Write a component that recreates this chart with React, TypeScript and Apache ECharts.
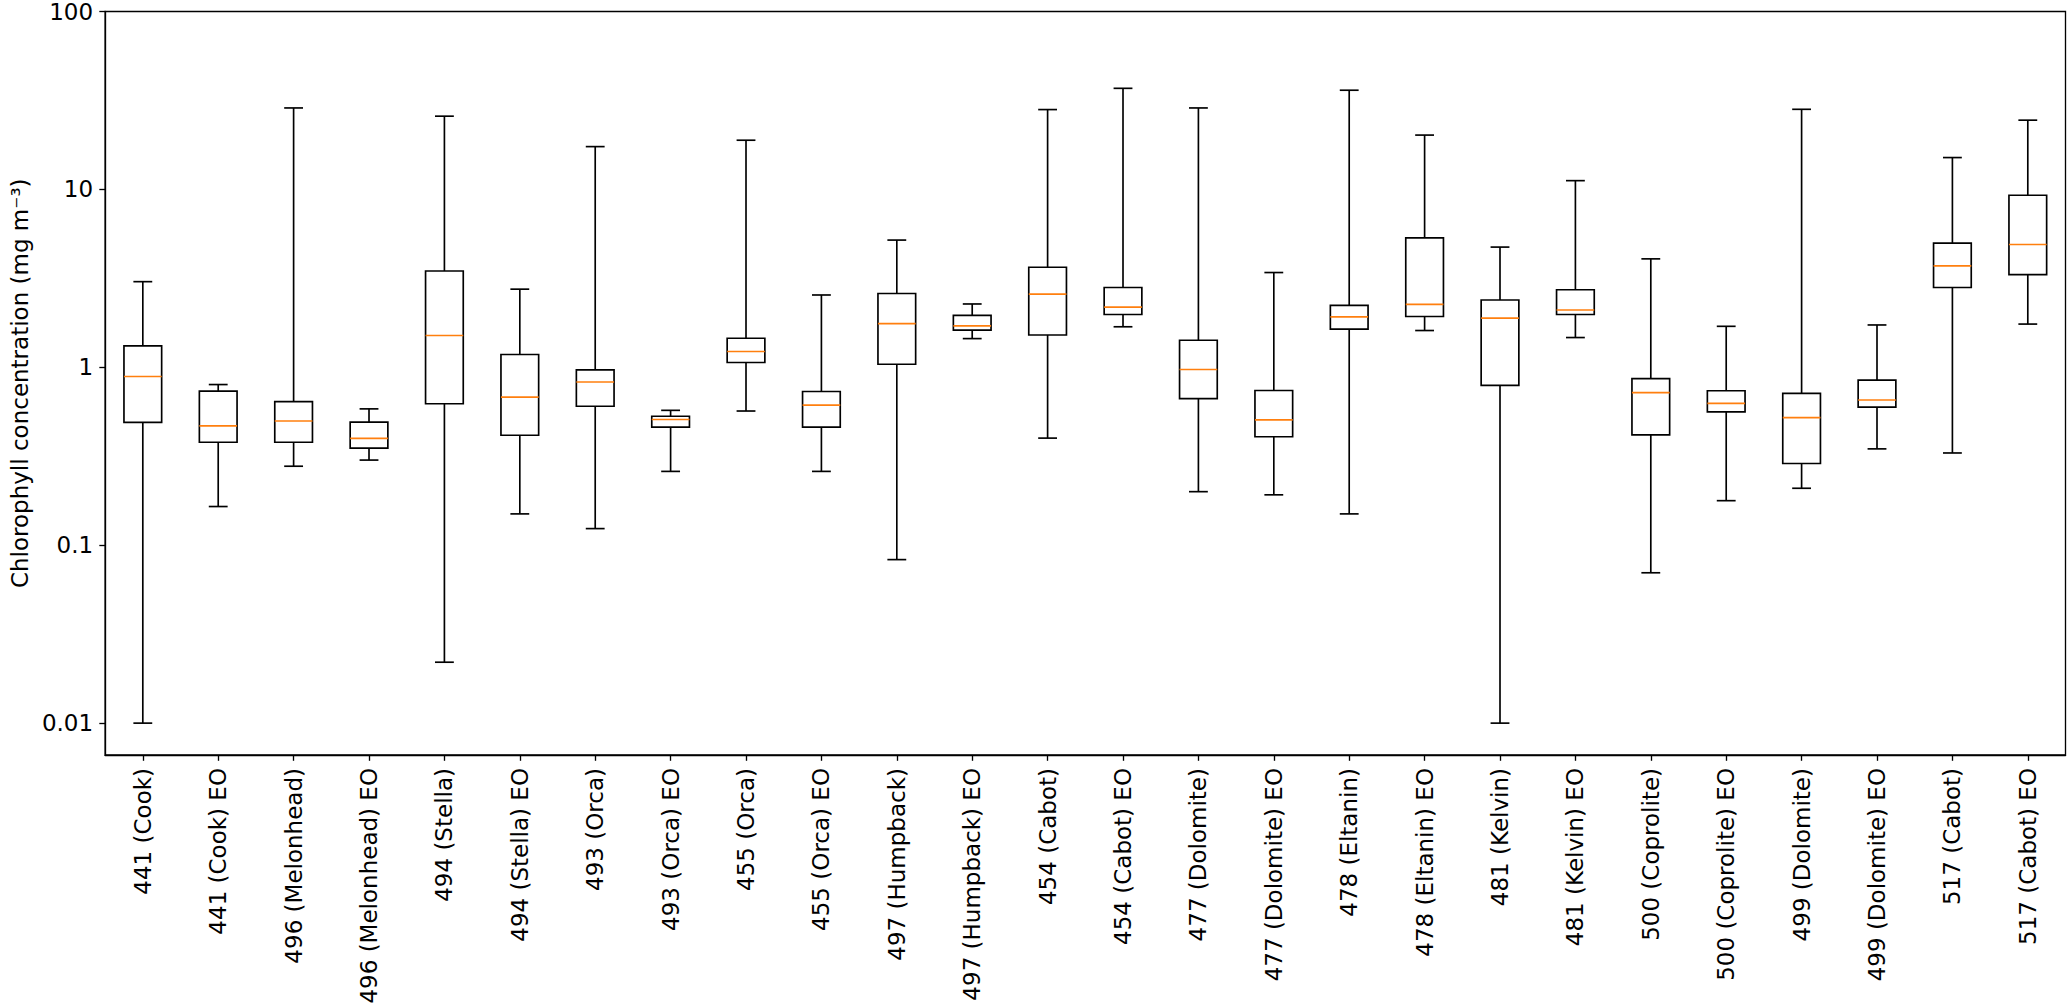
import React, { useEffect, useRef } from "react";
import * as echarts from "echarts";

const categories = [
  "441 (Cook)", "441 (Cook) EO", "496 (Melonhead)", "496 (Melonhead) EO",
  "494 (Stella)", "494 (Stella) EO", "493 (Orca)", "493 (Orca) EO",
  "455 (Orca)", "455 (Orca) EO", "497 (Humpback)", "497 (Humpback) EO",
  "454 (Cabot)", "454 (Cabot) EO", "477 (Dolomite)", "477 (Dolomite) EO",
  "478 (Eltanin)", "478 (Eltanin) EO", "481 (Kelvin)", "481 (Kelvin) EO",
  "500 (Coprolite)", "500 (Coprolite) EO", "499 (Dolomite)", "499 (Dolomite) EO",
  "517 (Cabot)", "517 (Cabot) EO",
];

const whiskerLow = [0.01, 0.165, 0.278, 0.301, 0.022, 0.15, 0.124, 0.26, 0.568, 0.26, 0.083, 1.45, 0.4, 1.69, 0.2, 0.192, 0.15, 1.61, 0.01, 1.47, 0.07, 0.178, 0.209, 0.348, 0.33, 1.75];
const q1 = [0.49, 0.379, 0.379, 0.351, 0.624, 0.415, 0.604, 0.461, 1.064, 0.461, 1.04, 1.62, 1.52, 1.98, 0.667, 0.407, 1.64, 1.93, 0.792, 1.98, 0.417, 0.562, 0.288, 0.598, 2.81, 3.32];
const medians = [0.888, 0.469, 0.499, 0.399, 1.51, 0.68, 0.827, 0.509, 1.227, 0.613, 1.76, 1.71, 2.58, 2.18, 0.972, 0.507, 1.92, 2.26, 1.89, 2.1, 0.72, 0.627, 0.521, 0.655, 3.72, 4.9];
const q3 = [1.32, 0.734, 0.642, 0.492, 3.48, 1.18, 0.967, 0.531, 1.456, 0.731, 2.6, 1.96, 3.65, 2.81, 1.42, 0.741, 2.23, 5.34, 2.39, 2.73, 0.863, 0.738, 0.713, 0.847, 4.99, 9.27];
const whiskerHigh = [3.03, 0.8, 28.7, 0.584, 25.8, 2.75, 17.4, 0.573, 18.9, 2.55, 5.19, 2.27, 28.1, 37.0, 28.7, 3.41, 36.1, 20.2, 4.74, 11.2, 4.07, 1.7, 28.2, 1.73, 15.1, 24.5];

const yTicks = [0.01, 0.1, 1, 10, 100];

const FONT = "DejaVu Sans";

export default function App() {
  const ref = useRef<HTMLDivElement>(null);
  useEffect(() => {
    document.body.style.margin = "0";
    const chart = echarts.init(ref.current!, null, { renderer: "svg" });
    const data = categories.map((_, i) => [i, whiskerLow[i], q1[i], medians[i], q3[i], whiskerHigh[i]]);
    const LW = 1.67;
    chart.setOption({
      animation: false,
      backgroundColor: "#fff",
      grid: {
        left: 97,
        right: 1.5,
        top: 8.5,
        bottom: 252,
        show: true,
        borderColor: "#000",
        borderWidth: 1.33,
        backgroundColor: "transparent",
      },
      xAxis: {
        type: "category",
        data: categories,
        boundaryGap: true,
        axisLine: { show: true, lineStyle: { color: "#000", width: 1.33 } },
        axisTick: { show: true, alignWithLabel: true, length: 5.8, lineStyle: { color: "#000", width: 1.33 } },
        axisLabel: { rotate: 90, interval: 0, margin: 13, color: "#000", fontFamily: FONT, fontSize: 23 },
        splitLine: { show: false },
      },
      yAxis: {
        type: "log",
        logBase: 10,
        min: 0.00662,
        max: 100,
        name: "Chlorophyll concentration (mg m⁻³)",
        nameLocation: "middle",
        nameGap: 72,
        nameTextStyle: { color: "#000", fontFamily: FONT, fontSize: 23 },
        axisLine: { show: true, lineStyle: { color: "#000", width: 1.33 } },
        axisTick: { show: true, length: 5.8, customValues: yTicks, lineStyle: { color: "#000", width: 1.33 } },
        axisLabel: {
          customValues: yTicks,
          margin: 12,
          color: "#000",
          fontFamily: FONT,
          fontSize: 23,
          formatter: (v: number) => String(parseFloat(Number(v).toPrecision(3))),
        },
        splitLine: { show: false },
        minorTick: { show: false },
      },
      series: [
        {
          type: "custom",
          data,
          encode: { x: 0, y: [1, 2, 3, 4, 5] },
          renderItem: (params: any, api: any) => {
            const i = api.value(0);
            const band = params.coordSys.width / categories.length;
            const bw = band * 0.5;
            const cw = band * 0.25;
            const pLow = api.coord([i, api.value(1)]);
            const pQ1 = api.coord([i, api.value(2)]);
            const pMed = api.coord([i, api.value(3)]);
            const pQ3 = api.coord([i, api.value(4)]);
            const pHigh = api.coord([i, api.value(5)]);
            const cx = pMed[0];
            const s = { stroke: "#000", lineWidth: LW, fill: "none" };
            return {
              type: "group",
              children: [
                { type: "line", shape: { x1: cx, y1: pQ1[1], x2: cx, y2: pLow[1] }, style: s },
                { type: "line", shape: { x1: cx, y1: pQ3[1], x2: cx, y2: pHigh[1] }, style: s },
                { type: "line", shape: { x1: cx - cw / 2, y1: pLow[1], x2: cx + cw / 2, y2: pLow[1] }, style: s },
                { type: "line", shape: { x1: cx - cw / 2, y1: pHigh[1], x2: cx + cw / 2, y2: pHigh[1] }, style: s },
                { type: "rect", shape: { x: cx - bw / 2, y: pQ3[1], width: bw, height: pQ1[1] - pQ3[1] }, style: s },
                { type: "line", shape: { x1: cx - bw / 2, y1: pMed[1], x2: cx + bw / 2, y2: pMed[1] }, style: { stroke: "#ff7f0e", lineWidth: LW } },
              ],
            };
          },
        },
      ],
    });
    return () => chart.dispose();
  }, []);
  return <div ref={ref} style={{ position: "absolute", left: 0, top: 0, width: 2067, height: 1007 }} />;
}
